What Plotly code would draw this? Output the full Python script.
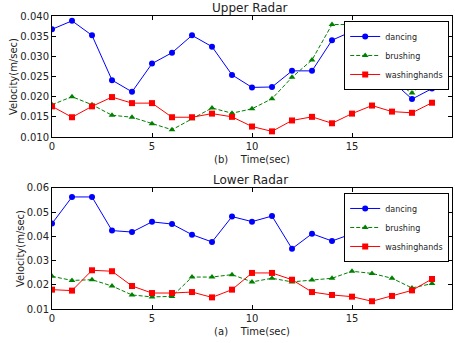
import plotly.graph_objects as go
from plotly.subplots import make_subplots

time = list(range(20))

upper_dancing = [0.0367, 0.0388, 0.0352, 0.0241, 0.0212, 0.0282, 0.0309, 0.0352, 0.0324, 0.0254,
                 0.0223, 0.0224, 0.0264, 0.0264, 0.0340, 0.0362, 0.0335, 0.0239, 0.0194, 0.0220]
upper_brushing = [0.0180, 0.0200, 0.0180, 0.0154, 0.0149, 0.0133, 0.0118, 0.0145, 0.0172, 0.0159,
                  0.0170, 0.0195, 0.0248, 0.0291, 0.0379, 0.0379, 0.0320, 0.0241, 0.0209, 0.0254]
upper_washing = [0.0176, 0.0149, 0.0176, 0.0199, 0.0184, 0.0184, 0.0149, 0.0149, 0.0158, 0.0150,
                 0.0126, 0.0114, 0.0141, 0.0150, 0.0134, 0.0158, 0.0178, 0.0163, 0.0160, 0.0185]

lower_dancing = [0.0453, 0.0563, 0.0563, 0.0424, 0.0418, 0.0460, 0.0451, 0.0407, 0.0377, 0.0482,
                 0.0461, 0.0484, 0.0349, 0.0411, 0.0381, 0.0411, 0.0340, 0.0355, 0.0340, 0.0398]
lower_brushing = [0.0235, 0.0218, 0.0221, 0.0195, 0.0158, 0.0150, 0.0152, 0.0232, 0.0232, 0.0242,
                  0.0212, 0.0227, 0.0212, 0.0220, 0.0227, 0.0256, 0.0247, 0.0227, 0.0187, 0.0205]
lower_washing = [0.0180, 0.0176, 0.0260, 0.0256, 0.0195, 0.0166, 0.0166, 0.0170, 0.0148, 0.0180,
                 0.0249, 0.0249, 0.0221, 0.0170, 0.0158, 0.0151, 0.0132, 0.0154, 0.0177, 0.0224]

series_names = ["dancing", "brushing", "washinghands"]
x_ticks = [0, 5, 10, 15, 20]
upper_yticks = [0.010, 0.015, 0.020, 0.025, 0.030, 0.035, 0.040]
lower_yticks = [0.01, 0.02, 0.03, 0.04, 0.05, 0.06]

colors = ["#0000ff", "#008000", "#ff0000"]
symbols = ["circle", "triangle-up", "square"]
dashes = ["solid", "4px,2px", "solid"]

fig = make_subplots(rows=2, cols=1, vertical_spacing=0.17)

FONT = "DejaVu Sans"
TXT = "#222"

for row, data, leg in [(1, [upper_dancing, upper_brushing, upper_washing], "legend"),
                       (2, [lower_dancing, lower_brushing, lower_washing], "legend2")]:
    for name, vals, c, s, d in zip(series_names, data, colors, symbols, dashes):
        fig.add_trace(go.Scatter(
            x=time, y=vals, name=name, mode="lines+markers",
            line=dict(color=c, width=1, dash=d),
            marker=dict(color=c, symbol=s, size=6, line=dict(width=0)),
            legend=leg,
        ), row=row, col=1)

axis_common = dict(showline=True, linecolor="black", linewidth=1, mirror="ticks",
                   ticks="inside", ticklen=4, tickcolor="black", showgrid=False, zeroline=False,
                   automargin=False,
                   tickfont=dict(family=FONT, size=10, color=TXT))

fig.update_xaxes(range=[0, 20], tickvals=x_ticks, **axis_common)
fig.update_yaxes(**axis_common)

xt_font = dict(family=FONT, size=10, color=TXT)
fig.update_xaxes(title=dict(text="(b)\u00a0\u00a0\u00a0\u00a0Time(sec)", font=xt_font, standoff=4), row=1, col=1)
fig.update_xaxes(title=dict(text="(a)\u00a0\u00a0\u00a0\u00a0Time(sec)", font=xt_font, standoff=4), row=2, col=1)
fig.update_yaxes(range=[0.010, 0.040], tickvals=upper_yticks, tickformat=".3f",
                 title=dict(text="Velocity(m/sec)", font=xt_font, standoff=0), row=1, col=1)
fig.update_yaxes(range=[0.01, 0.06], tickvals=lower_yticks, tickformat=".2f",
                 title=dict(text="Velocity(m/sec)", font=xt_font, standoff=0), row=2, col=1)

leg_common = dict(xanchor="right", yanchor="top", bgcolor="white",
                  bordercolor="black", borderwidth=1, font=dict(family=FONT, size=8, color=TXT),
                  itemwidth=30, tracegroupgap=0)

fig.update_layout(
    width=455, height=343,
    margin=dict(l=52, r=3, t=16, b=34),
    paper_bgcolor="white", plot_bgcolor="white",
    font=dict(family=FONT, size=9, color=TXT),
    xaxis=dict(domain=[0, 1]), yaxis=dict(domain=[0.587, 1.0]),
    xaxis2=dict(domain=[0, 1]), yaxis2=dict(domain=[0.0, 0.413]),
    showlegend=True,
    legend=dict(x=0.993, y=0.983, **leg_common),
    legend2=dict(x=0.993, y=0.396, **leg_common),
    annotations=[
        dict(text="Upper Radar", x=0.495, y=1.0, xref="paper", yref="paper", xanchor="center",
             yanchor="bottom", yshift=-1, showarrow=False, font=dict(family=FONT, size=12, color=TXT)),
        dict(text="Lower Radar", x=0.495, y=0.413, xref="paper", yref="paper", xanchor="center",
             yanchor="bottom", yshift=-1, showarrow=False, font=dict(family=FONT, size=12, color=TXT)),
    ],
)

fig.write_html("out.html", config={"displayModeBar": False},
               post_script="document.body.style.margin='0';")
